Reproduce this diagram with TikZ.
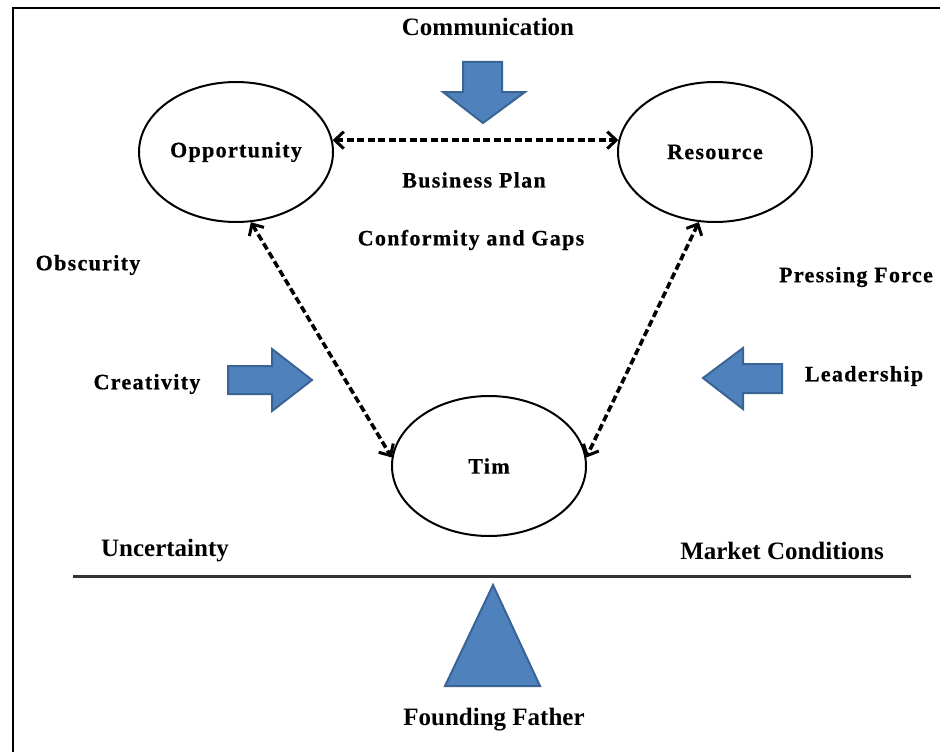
\documentclass[tikz,border=0pt]{standalone}
\usepackage{fontspec}
\setmainfont{Liberation Serif}
\newfontfamily\lblAfont{Liberation Serif Bold}[FakeStretch=1.0]
\newfontfamily\lblBfont{Liberation Serif Bold}[LetterSpace=6,FakeBold=0.6]
\usetikzlibrary{arrows.meta,shapes.geometric}
\definecolor{blockfill}{HTML}{4F81BD}
\definecolor{blockline}{HTML}{3A6494}
\tikzset{
  lblA/.style={font=\lblAfont\fontsize{25bp}{28bp}\selectfont, inner sep=0pt},
  lblB/.style={font=\lblBfont\fontsize{22bp}{25bp}\selectfont, inner sep=0pt},
  bubble/.style={ellipse, draw=black, line width=2bp, minimum width=194bp, minimum height=140bp, inner sep=0pt,
     font=\lblBfont\fontsize{22bp}{25bp}\selectfont},
  link/.style={line width=3.6bp, dash pattern=on 7bp off 3.5bp,
     {Straight Barb[length=9bp,width=17bp,line width=3bp]}-{Straight Barb[length=9bp,width=17bp,line width=3bp]}},
  block/.style={fill=blockfill, draw=blockline, line width=2bp, line join=miter},
  frame/.style={line width=2.2bp, draw=black},
  beam/.style={line width=3bp, draw=black!80}
}
\begin{document}
\begin{tikzpicture}[x=1bp,y=-1bp]
\useasboundingbox (0,0) rectangle (940,752);
\fill[white] (0,0) rectangle (940,752);
% frame
\draw[frame] (13,752) -- (13,8) -- (940,8);
% ellipses
\node[bubble] (opp) at (236,152) {Opportunity};
\node[bubble] (res) at (715,152) {Resource};
\node[bubble] (tim) at (489,466) {Tim};
% connectors
\draw[link] (opp.7) -- (res.173);
\draw[link] (opp.-78) -- (tim.175);
\draw[link] (res.-103) -- (tim.5);
% block arrows
\draw[block] (463,62) -- (502,62) -- (502,92) -- (525,92) -- (483,123) -- (443,92) -- (463,92) -- cycle;
\draw[block] (228,366) -- (272,366) -- (272,349) -- (312,380) -- (272,411) -- (272,394) -- (228,394) -- cycle;
\draw[block] (782,364) -- (743,364) -- (743,348) -- (703,378) -- (743,409) -- (743,393) -- (782,393) -- cycle;
\draw[block] (493,585) -- (540,686) -- (445,686) -- cycle;
% beam
\draw[beam] (73,576) -- (911,576);
% labels
\node[lblA] (comm) at (488,27) {Communication};
\node[lblB] (bp) at (474,180) {Business Plan};
\node[lblB] (cg) at (471,240) {Conformity and Gaps};
\node[lblB] (obs) at (88,265) {Obscurity};
\node[lblB] (pf) at (856,277) {Pressing Force};
\node[lblB] (cre) at (147,384) {Creativity};
\node[lblB] (lead) at (864,376) {Leadership};
\node[lblA] (unc) at (165,551) {Uncertainty};
\node[lblA] (mkt) at (782,551) {Market Conditions};
\node[lblA] (ff) at (494,720) {Founding Father};
\end{tikzpicture}
\end{document}
